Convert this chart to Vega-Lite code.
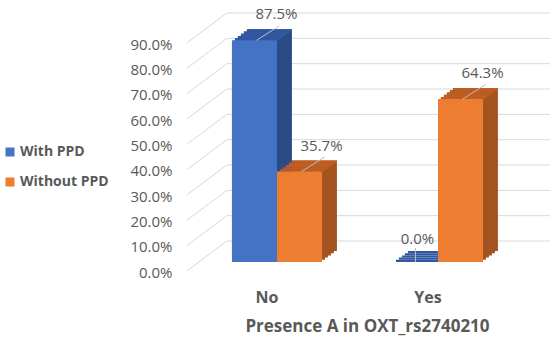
{
  "$schema": "https://vega.github.io/schema/vega-lite/v6.json",
  "width": 341,
  "height": 228,
  "autosize": {"type": "none"},
  "padding": {"left": 187, "top": 34, "right": 22, "bottom": 78},
  "background": "white",
  "config": {
    "view": {"stroke": null},
    "font": "Open Sans",
    "axisY": {"domain": false, "ticks": false, "grid": false, "labelPadding": 15, "labelOffset": 10, "labelFontSize": 15, "labelColor": "#595959", "labelOverlap": false, "labelBound": false, "labelFlush": false},
    "axisX": {"domain": false, "ticks": false, "grid": false, "labelPadding": 27, "labelOffset": -10, "labelFontSize": 16, "labelFontWeight": "bold", "labelColor": "#595959", "labelAngle": 0, "titleFontSize": 17, "titleFontWeight": "bold", "titleColor": "#595959", "titleX": 180, "titleY": 64, "titleBaseline": "middle"}
  },
  "datasets": {
    "bars": [
      {"presence": "No", "series": "With PPD", "pct": 0.875},
      {"presence": "No", "series": "Without PPD", "pct": 0.357},
      {"presence": "Yes", "series": "With PPD", "pct": 0.0},
      {"presence": "Yes", "series": "Without PPD", "pct": 0.643}
    ],
    "ticks": [{"v": 0}, {"v": 0.1}, {"v": 0.2}, {"v": 0.3}, {"v": 0.4}, {"v": 0.5}, {"v": 0.6}, {"v": 0.7}, {"v": 0.8}, {"v": 0.9}]
  },
  "resolve": {"scale": {"xOffset": "independent"}},
  "layer": [
    {
      "data": {"name": "ticks"},
      "mark": {"type": "rule", "color": "#D9D9D9", "strokeWidth": 1, "xOffset": -5, "x2Offset": 157, "yOffset": -21, "y2Offset": -21},
      "encoding": {
        "x": {"datum": "No", "bandPosition": 0, "type": "nominal", "title": "Presence A in OXT_rs2740210", "scale": {"paddingInner": 0.44, "paddingOuter": 0.279}},
        "x2": {"datum": "Yes", "bandPosition": 0},
        "y": {"field": "v", "type": "quantitative", "title": null, "scale": {"domain": [0, 0.9], "nice": false, "zero": true}, "axis": {"values": [0, 0.1, 0.2, 0.3, 0.4, 0.5, 0.6, 0.7, 0.8, 0.9], "format": ".1%", "labelOverlap": false}},
        "y2": {"field": "v"}
      }
    },
    {
      "data": {"name": "ticks"},
      "mark": {"type": "rule", "color": "#D9D9D9", "strokeWidth": 1, "xOffset": -45, "x2Offset": -5, "yOffset": 9, "y2Offset": -21},
      "encoding": {
        "x": {"datum": "No", "bandPosition": 0, "type": "nominal", "title": "Presence A in OXT_rs2740210"},
        "x2": {"datum": "No", "bandPosition": 0},
        "y": {"field": "v", "type": "quantitative", "title": null, "axis": {"values": [0, 0.1, 0.2, 0.3, 0.4, 0.5, 0.6, 0.7, 0.8, 0.9], "format": ".1%", "labelOverlap": false}},
        "y2": {"field": "v"}
      }
    },
    {
      "data": {"name": "bars"},
      "mark": {"type": "bar", "yOffset": -2.2, "y2Offset": -2.2},
      "encoding": {
        "x": {"field": "presence", "type": "nominal", "title": "Presence A in OXT_rs2740210"},
        "xOffset": {"field": "series", "scale": {"range": [3, 93], "paddingInner": 0, "paddingOuter": 0}},
        "y": {"field": "pct", "type": "quantitative", "title": null, "axis": {"values": [0, 0.1, 0.2, 0.3, 0.4, 0.5, 0.6, 0.7, 0.8, 0.9], "format": ".1%", "labelOverlap": false}},
        "color": {"condition": {"test": "datum.series === 'With PPD'", "value": "#2B4B86"}, "value": "#A3531F"}
      }
    },
    {
      "data": {"name": "bars"},
      "mark": {"type": "bar", "yOffset": -4.4, "y2Offset": -4.4},
      "encoding": {
        "x": {"field": "presence", "type": "nominal", "title": "Presence A in OXT_rs2740210"},
        "xOffset": {"field": "series", "scale": {"range": [6, 96], "paddingInner": 0, "paddingOuter": 0}},
        "y": {"field": "pct", "type": "quantitative", "title": null, "axis": {"values": [0, 0.1, 0.2, 0.3, 0.4, 0.5, 0.6, 0.7, 0.8, 0.9], "format": ".1%", "labelOverlap": false}},
        "color": {"condition": {"test": "datum.series === 'With PPD'", "value": "#2B4B86"}, "value": "#A3531F"}
      }
    },
    {
      "data": {"name": "bars"},
      "mark": {"type": "bar", "yOffset": -6.6, "y2Offset": -6.6},
      "encoding": {
        "x": {"field": "presence", "type": "nominal", "title": "Presence A in OXT_rs2740210"},
        "xOffset": {"field": "series", "scale": {"range": [9, 99], "paddingInner": 0, "paddingOuter": 0}},
        "y": {"field": "pct", "type": "quantitative", "title": null, "axis": {"values": [0, 0.1, 0.2, 0.3, 0.4, 0.5, 0.6, 0.7, 0.8, 0.9], "format": ".1%", "labelOverlap": false}},
        "color": {"condition": {"test": "datum.series === 'With PPD'", "value": "#2B4B86"}, "value": "#A3531F"}
      }
    },
    {
      "data": {"name": "bars"},
      "mark": {"type": "bar", "yOffset": -8.8, "y2Offset": -8.8},
      "encoding": {
        "x": {"field": "presence", "type": "nominal", "title": "Presence A in OXT_rs2740210"},
        "xOffset": {"field": "series", "scale": {"range": [12, 102], "paddingInner": 0, "paddingOuter": 0}},
        "y": {"field": "pct", "type": "quantitative", "title": null, "axis": {"values": [0, 0.1, 0.2, 0.3, 0.4, 0.5, 0.6, 0.7, 0.8, 0.9], "format": ".1%", "labelOverlap": false}},
        "color": {"condition": {"test": "datum.series === 'With PPD'", "value": "#2B4B86"}, "value": "#A3531F"}
      }
    },
    {
      "data": {"name": "bars"},
      "mark": {"type": "bar", "yOffset": -11, "y2Offset": -11},
      "encoding": {
        "x": {"field": "presence", "type": "nominal", "title": "Presence A in OXT_rs2740210"},
        "xOffset": {"field": "series", "scale": {"range": [15, 105], "paddingInner": 0, "paddingOuter": 0}},
        "y": {"field": "pct", "type": "quantitative", "title": null, "axis": {"values": [0, 0.1, 0.2, 0.3, 0.4, 0.5, 0.6, 0.7, 0.8, 0.9], "format": ".1%", "labelOverlap": false}},
        "color": {"condition": {"test": "datum.series === 'With PPD'", "value": "#2B4B86"}, "value": "#A3531F"}
      }
    },
    {
      "data": {"name": "bars"},
      "mark": {"type": "bar", "yOffset": -2.2, "y2Offset": -0.01},
      "encoding": {
        "x": {"field": "presence", "type": "nominal", "title": "Presence A in OXT_rs2740210"},
        "xOffset": {"field": "series", "scale": {"range": [3, 93], "paddingInner": 0, "paddingOuter": 0}},
        "y": {"field": "pct", "type": "quantitative", "title": null, "axis": {"values": [0, 0.1, 0.2, 0.3, 0.4, 0.5, 0.6, 0.7, 0.8, 0.9], "format": ".1%", "labelOverlap": false}},
        "y2": {"field": "pct"},
        "color": {"condition": {"test": "datum.series === 'With PPD'", "value": "#3158A0"}, "value": "#BE5E22"}
      }
    },
    {
      "data": {"name": "bars"},
      "mark": {"type": "bar", "yOffset": -4.4, "y2Offset": -2.2},
      "encoding": {
        "x": {"field": "presence", "type": "nominal", "title": "Presence A in OXT_rs2740210"},
        "xOffset": {"field": "series", "scale": {"range": [6, 96], "paddingInner": 0, "paddingOuter": 0}},
        "y": {"field": "pct", "type": "quantitative", "title": null, "axis": {"values": [0, 0.1, 0.2, 0.3, 0.4, 0.5, 0.6, 0.7, 0.8, 0.9], "format": ".1%", "labelOverlap": false}},
        "y2": {"field": "pct"},
        "color": {"condition": {"test": "datum.series === 'With PPD'", "value": "#3158A0"}, "value": "#BE5E22"}
      }
    },
    {
      "data": {"name": "bars"},
      "mark": {"type": "bar", "yOffset": -6.6, "y2Offset": -4.4},
      "encoding": {
        "x": {"field": "presence", "type": "nominal", "title": "Presence A in OXT_rs2740210"},
        "xOffset": {"field": "series", "scale": {"range": [9, 99], "paddingInner": 0, "paddingOuter": 0}},
        "y": {"field": "pct", "type": "quantitative", "title": null, "axis": {"values": [0, 0.1, 0.2, 0.3, 0.4, 0.5, 0.6, 0.7, 0.8, 0.9], "format": ".1%", "labelOverlap": false}},
        "y2": {"field": "pct"},
        "color": {"condition": {"test": "datum.series === 'With PPD'", "value": "#3158A0"}, "value": "#BE5E22"}
      }
    },
    {
      "data": {"name": "bars"},
      "mark": {"type": "bar", "yOffset": -8.8, "y2Offset": -6.6},
      "encoding": {
        "x": {"field": "presence", "type": "nominal", "title": "Presence A in OXT_rs2740210"},
        "xOffset": {"field": "series", "scale": {"range": [12, 102], "paddingInner": 0, "paddingOuter": 0}},
        "y": {"field": "pct", "type": "quantitative", "title": null, "axis": {"values": [0, 0.1, 0.2, 0.3, 0.4, 0.5, 0.6, 0.7, 0.8, 0.9], "format": ".1%", "labelOverlap": false}},
        "y2": {"field": "pct"},
        "color": {"condition": {"test": "datum.series === 'With PPD'", "value": "#3158A0"}, "value": "#BE5E22"}
      }
    },
    {
      "data": {"name": "bars"},
      "mark": {"type": "bar", "yOffset": -11, "y2Offset": -8.8},
      "encoding": {
        "x": {"field": "presence", "type": "nominal", "title": "Presence A in OXT_rs2740210"},
        "xOffset": {"field": "series", "scale": {"range": [15, 105], "paddingInner": 0, "paddingOuter": 0}},
        "y": {"field": "pct", "type": "quantitative", "title": null, "axis": {"values": [0, 0.1, 0.2, 0.3, 0.4, 0.5, 0.6, 0.7, 0.8, 0.9], "format": ".1%", "labelOverlap": false}},
        "y2": {"field": "pct"},
        "color": {"condition": {"test": "datum.series === 'With PPD'", "value": "#3158A0"}, "value": "#BE5E22"}
      }
    },
    {
      "data": {"name": "bars"},
      "mark": {"type": "bar"},
      "encoding": {
        "x": {"field": "presence", "type": "nominal", "title": "Presence A in OXT_rs2740210"},
        "xOffset": {"field": "series", "scale": {"paddingInner": 0, "paddingOuter": 0}},
        "y": {"field": "pct", "type": "quantitative", "title": null, "axis": {"values": [0, 0.1, 0.2, 0.3, 0.4, 0.5, 0.6, 0.7, 0.8, 0.9], "format": ".1%", "labelOverlap": false}},
        "color": {
          "field": "series", "type": "nominal",
          "scale": {"domain": ["With PPD", "Without PPD"], "range": ["#4472C4", "#ED7D31"]},
          "legend": {"orient": "none", "legendX": -184, "legendY": 111, "title": null, "symbolType": "square", "symbolSize": 81, "symbolStrokeWidth": 0, "labelFontSize": 14, "labelFontWeight": "bold", "labelColor": "#595959", "labelOffset": 3, "rowPadding": 16, "padding": 0}
        }
      }
    },
    {
      "data": {"name": "bars"},
      "mark": {"type": "point", "shape": "M0.2,0L2.5,-1.45", "size": 400, "filled": false, "color": "#BFBFBF", "strokeWidth": 1},
      "encoding": {
        "x": {"field": "presence", "type": "nominal", "title": "Presence A in OXT_rs2740210"},
        "xOffset": {"field": "series", "scale": {"type": "band", "paddingInner": 0, "paddingOuter": 0}},
        "y": {"field": "pct", "type": "quantitative", "title": null, "axis": {"values": [0, 0.1, 0.2, 0.3, 0.4, 0.5, 0.6, 0.7, 0.8, 0.9], "format": ".1%", "labelOverlap": false}},
        "opacity": {"condition": {"test": "datum.pct > 0", "value": 1}, "value": 0}
      }
    },
    {
      "data": {"name": "bars"},
      "mark": {"type": "point", "shape": "M0,0L0,-1.4", "size": 400, "filled": false, "color": "#BFBFBF", "strokeWidth": 1},
      "encoding": {
        "x": {"field": "presence", "type": "nominal", "title": "Presence A in OXT_rs2740210"},
        "xOffset": {"field": "series", "scale": {"type": "band", "paddingInner": 0, "paddingOuter": 0}},
        "y": {"field": "pct", "type": "quantitative", "title": null, "axis": {"values": [0, 0.1, 0.2, 0.3, 0.4, 0.5, 0.6, 0.7, 0.8, 0.9], "format": ".1%", "labelOverlap": false}},
        "opacity": {"condition": {"test": "datum.pct > 0", "value": 0}, "value": 1}
      }
    },
    {
      "data": {"name": "bars"},
      "mark": {"type": "text", "dx": 22, "dy": -26, "fontSize": 15, "color": "#595959"},
      "encoding": {
        "x": {"field": "presence", "type": "nominal", "title": "Presence A in OXT_rs2740210"},
        "xOffset": {"field": "series", "scale": {"type": "band", "paddingInner": 0, "paddingOuter": 0}},
        "y": {"field": "pct", "type": "quantitative", "title": null, "axis": {"values": [0, 0.1, 0.2, 0.3, 0.4, 0.5, 0.6, 0.7, 0.8, 0.9], "format": ".1%", "labelOverlap": false}},
        "text": {"field": "pct", "type": "quantitative", "format": ".1%"},
        "opacity": {"condition": {"test": "datum.pct > 0", "value": 1}, "value": 0}
      }
    },
    {
      "data": {"name": "bars"},
      "mark": {"type": "text", "dx": 2, "dy": -23, "fontSize": 15, "color": "#595959"},
      "encoding": {
        "x": {"field": "presence", "type": "nominal", "title": "Presence A in OXT_rs2740210"},
        "xOffset": {"field": "series", "scale": {"type": "band", "paddingInner": 0, "paddingOuter": 0}},
        "y": {"field": "pct", "type": "quantitative", "title": null, "axis": {"values": [0, 0.1, 0.2, 0.3, 0.4, 0.5, 0.6, 0.7, 0.8, 0.9], "format": ".1%", "labelOverlap": false}},
        "text": {"field": "pct", "type": "quantitative", "format": ".1%"},
        "opacity": {"condition": {"test": "datum.pct > 0", "value": 0}, "value": 1}
      }
    }
  ]
}
